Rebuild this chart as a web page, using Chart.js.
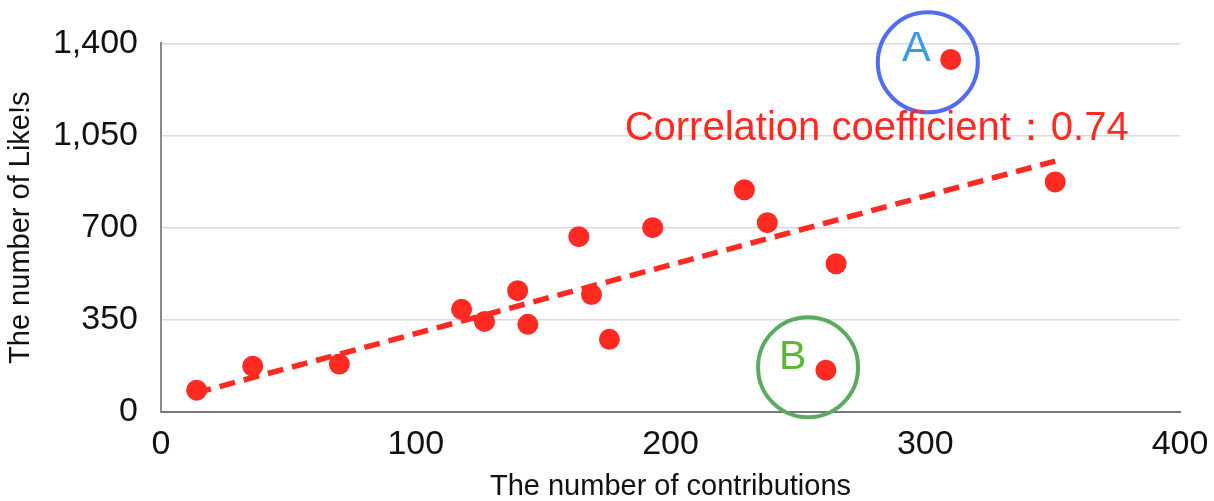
<!DOCTYPE html>
<html>
<head>
<meta charset="utf-8">
<script src="https://cdn.jsdelivr.net/npm/chart.js@4/dist/chart.umd.min.js"></script>
<style>
  html, body { margin: 0; padding: 0; background: #fff; }
  #wrap { width: 1214px; height: 501px; }
</style>
</head>
<body>
<div id="wrap"><canvas id="myChart" width="1214" height="501"></canvas></div>
<script>
// contributions (x) and likes (y) per user
const contributions = [14, 36, 70, 118, 127, 140, 144, 164, 169, 176, 193, 229, 238, 265, 261, 310, 351];
const likes = [83, 174, 182, 390, 344, 461, 333, 666, 446, 276, 700, 844, 719, 563, 159, 1339, 874];

// trend line ends
const trendX = [13.5, 351];
const trendY = [72, 953];

// tick values
const xTicks = [0, 100, 200, 300, 400];
const yTicks = [0, 350, 700, 1050, 1400];

const FONT = "'Liberation Sans', Arial, sans-serif";
const RED = "#ff2a22";

// circles and text drawn on top, placed in data units
const notes = {
    id: "notes",
    afterDatasetsDraw(chart) {
        const ctx = chart.ctx;
        const x = chart.scales.x, y = chart.scales.y;
        ctx.save();
        // A
        ctx.beginPath();
        ctx.arc(x.getPixelForValue(301), y.getPixelForValue(1328), 50, 0, Math.PI * 2);
        ctx.strokeStyle = "#4f6cf2";
        ctx.lineWidth = 4;
        ctx.stroke();
        ctx.fillStyle = "#3d9be3";
        ctx.font = "43px " + FONT;
        ctx.textAlign = "center";
        ctx.textBaseline = "middle";
        ctx.fillText("A", x.getPixelForValue(296.5), y.getPixelForValue(1380));
        // B
        ctx.beginPath();
        ctx.arc(x.getPixelForValue(254), y.getPixelForValue(170), 50, 0, Math.PI * 2);
        ctx.strokeStyle = "#5aab5e";
        ctx.stroke();
        ctx.fillStyle = "#5cb832";
        ctx.font = "41px " + FONT;
        ctx.fillText("B", x.getPixelForValue(248), y.getPixelForValue(208));
        // correlation
        ctx.fillStyle = RED;
        ctx.font = "40px " + FONT;
        ctx.textAlign = "left";
        ctx.fillText("Correlation coefficient：0.74", x.getPixelForValue(182), y.getPixelForValue(1074));
        ctx.restore();
    }
};

const info = {
    datasets: [
        {
            type: "line",
            data: trendX.map((v, i) => ({ x: v, y: trendY[i] })),
            borderColor: RED,
            borderWidth: 5.5,
            borderDash: [16, 9],
            pointRadius: 0,
            fill: false,
            order: 0
        },
        {
            type: "scatter",
            data: contributions.map((v, i) => ({ x: v, y: likes[i] })),
            backgroundColor: RED,
            borderWidth: 0,
            pointRadius: 10.5,
            order: 1
        }
    ]
};

const options = {
    responsive: false,
    animation: false,
    layout: { padding: { top: 29, right: 34, left: 0, bottom: 0 } },
    scales: {
        x: {
            type: "linear",
            min: 0, max: 400,
            afterBuildTicks: (s) => { s.ticks = xTicks.map((v) => ({ value: v })); },
            afterFit: (s) => { s.height = 89; s.paddingRight = 0; s.paddingLeft = 0; },
            ticks: { color: "#111", font: { family: FONT, size: 34 }, padding: 12, maxRotation: 0 },
            grid: { display: false, drawTicks: false },
            border: { color: "#777", width: 2 },
            title: {
                display: true,
                text: "The number of contributions",
                color: "#111",
                font: { family: FONT, size: 29, lineHeight: 1 },
                padding: { top: 8, bottom: 0 }
            }
        },
        y: {
            min: 0, max: 1400,
            afterBuildTicks: (s) => { s.ticks = yTicks.map((v) => ({ value: v })); },
            afterFit: (s) => { s.width = 161; },
            ticks: {
                color: "#111",
                font: { family: FONT, size: 34 },
                padding: 23,
                callback: (v) => v.toLocaleString("en-US")
            },
            grid: { color: "#d9d9d9", lineWidth: 1.5, drawTicks: false },
            border: { color: "#8a8a8a", width: 2 },
            title: {
                display: true,
                text: "The number of Like!s",
                color: "#111",
                font: { family: FONT, size: 29 },
                padding: { top: 4, bottom: 0 }
            }
        }
    },
    plugins: {
        legend: { display: false },
        tooltip: { enabled: false }
    }
};

const myChart = new Chart(document.getElementById("myChart"), {
    type: "scatter",
    data: info,
    options,
    plugins: [notes]
});
</script>
</body>
</html>
